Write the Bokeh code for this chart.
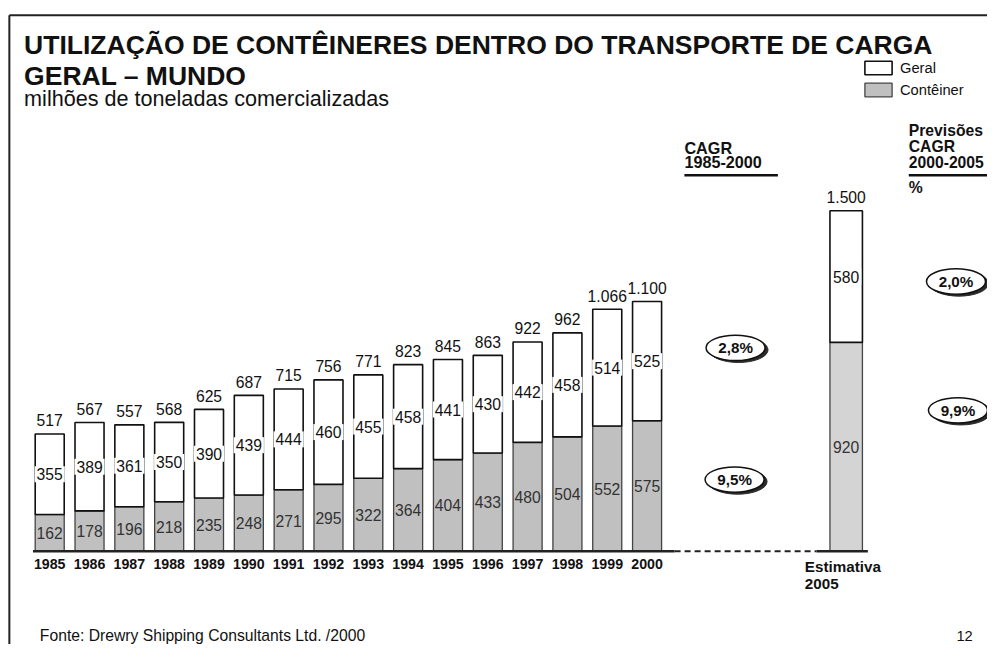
from bokeh.plotting import figure
from bokeh.models import ColumnDataSource, Range1d, Legend, LegendItem
from bokeh.core.properties import value
from bokeh.embed import file_html
from bokeh.resources import INLINE

# ---------------- data ----------------
years = [1985, 1986, 1987, 1988, 1989, 1990, 1991, 1992,
         1993, 1994, 1995, 1996, 1997, 1998, 1999, 2000]
totals = [517, 567, 557, 568, 625, 687, 715, 756,
          771, 823, 845, 863, 922, 962, 1066, 1100]
container = [162, 178, 196, 218, 235, 248, 271, 295,
             322, 364, 404, 433, 480, 504, 552, 575]
general = [355, 389, 361, 350, 390, 439, 444, 460,
           455, 458, 441, 430, 442, 458, 514, 525]

est_year = 2005
est_label = ["Estimativa", "2005"]
est_total = 1500
est_container = 920
est_general = 580

cagr_hist_title = ["CAGR", "1985-2000"]
cagr_hist = ["2,8%", "9,5%"]          # Geral, Contêiner
cagr_fcst_title = ["Previsões", "CAGR", "2000-2005", "%"]
cagr_fcst = ["2,0%", "9,9%"]          # Geral, Contêiner

title_lines = ["UTILIZAÇÃO DE CONTÊINERES DENTRO DO TRANSPORTE DE CARGA",
               "GERAL – MUNDO"]
subtitle = "milhões de toneladas comercializadas"
series_names = ["Geral", "Contêiner"]
source_note = "Fonte: Drewry Shipping Consultants Ltd. /2000"
page_number = "12"

# ---------------- layout ----------------
FONT = "Liberation Sans"
W, H = 987, 644
KX, KY = W / 1003, H / 660       # reference-page px -> canvas px
K = (KX + KY) / 2
SX = 40.47 * KX     # canvas px per year
SY = 0.2327 * KY    # canvas px per unit (milhões t)
X0 = 1985 - 50 * KX / SX
X1 = X0 + W / SX
Y1 = 564.5 * KY / SY
Y0 = Y1 - H / SY


def dx(px):
    return X0 + px * KX / SX


def dy(py):
    return Y1 - py * KY / SY


def fs(size):
    return f"{size * K:.1f}px"


def fmt(v):
    return f"{v:,}".replace(",", ".")


p = figure(width=W, height=H, x_range=Range1d(X0, X1), y_range=Range1d(Y0, Y1),
           output_backend="svg", toolbar_location=None, min_border=0,
           x_axis_type=None, y_axis_type=None, outline_line_color=None,
           background_fill_color="white", border_fill_color="white")
p.grid.visible = False


def put(px, py, txt, size, bold=False, align="left", baseline="middle", color="#111111"):
    p.text(x=[dx(px)], y=[dy(py)], text=[txt], text_font=value(FONT),
           text_font_size=fs(size), text_font_style="bold" if bold else "normal",
           text_align=align, text_baseline=baseline, text_color=color)


# page frame lines
p.segment(x0=[dx(9)], y0=[dy(15)], x1=[dx(1003)], y1=[dy(15)], line_color="#222222", line_width=2)
p.segment(x0=[dx(9)], y0=[dy(15)], x1=[dx(9)], y1=[dy(660)], line_color="#222222", line_width=2)

# titles
put(24, 46, title_lines[0], 27, bold=True, baseline="alphabetic")
put(24, 77, title_lines[1], 27, bold=True, baseline="alphabetic")
put(24, 100, subtitle, 22, baseline="alphabetic")

# ---------------- bars ----------------
bx = years + [est_year]
bc = container + [est_container]
bg = general + [est_general]
bt = totals + [est_total]
btop = [c + g for c, g in zip(bc, bg)]
bw = [29.5 * KX / SX] * len(years) + [33 * KX / SX]
cfill = ["#c0c0c0"] * len(years) + ["#d4d4d4"]

src = ColumnDataSource(dict(x=bx, c=bc, top=btop, w=bw, cfill=cfill))
cont_r = p.vbar(x="x", width="w", bottom=0, top="c", source=src,
                fill_color="cfill", line_color="#444444", line_width=1.3)
gen_r = p.vbar(x="x", width="w", bottom="c", top="top", source=src,
               fill_color="white", line_color="#111111", line_width=1.6)

# baseline: solid under history, dashed gap, solid under estimate
u = KX / SX
p.segment(x0=[years[0] - 17 * u], y0=[0], x1=[years[-1] + 28 * u], y1=[0],
          line_color="#222222", line_width=2.5)
p.segment(x0=[years[-1] + 28 * u], y0=[0], x1=[est_year - 30 * u], y1=[0],
          line_color="#222222", line_width=2, line_dash="6 4")
p.segment(x0=[est_year - 30 * u], y0=[0], x1=[est_year + 22 * u], y1=[0],
          line_color="#222222", line_width=2.5)

# value labels
v = KY / SY
lbl = ColumnDataSource(dict(
    x=bx,
    ytot=[t + 14 * v for t in btop],
    ttot=[fmt(t) for t in bt],
    ygen=[c + g / 2 for c, g in zip(bc, bg)],
    tgen=[fmt(g) for g in bg],
    ycon=[c / 2 for c in bc],
    tcon=[fmt(c) for c in bc],
))
p.text(x="x", y="ytot", text="ttot", source=lbl, text_font=value(FONT),
       text_font_size=fs(16), text_align="center", text_baseline="middle",
       text_color="#111111")
p.text(x="x", y="ygen", text="tgen", source=lbl, text_font=value(FONT),
       text_font_size=fs(16), text_align="center", text_baseline="middle",
       text_color="#111111", background_fill_color="white", padding=2)
p.text(x="x", y="ycon", text="tcon", source=lbl, text_font=value(FONT),
       text_font_size=fs(16), text_align="center", text_baseline="middle",
       text_color="#333333")

# year labels
p.text(x=years, y=[dy(578)] * len(years), text=[str(y) for y in years],
       text_font=value(FONT), text_font_size=fs(14.5), text_font_style="bold",
       text_align="center", text_baseline="middle", text_color="#111111")
p.text(x=[est_year - 42 * u] * 2, y=[dy(580), dy(598)], text=est_label,
       text_font=value(FONT), text_font_size=fs(15.5), text_font_style="bold",
       text_align="left", text_baseline="middle", text_color="#111111")

# ---------------- CAGR headers ----------------
put(695, 151, cagr_hist_title[0], 16.5, bold=True)
put(695, 166, cagr_hist_title[1], 16.5, bold=True)
p.segment(x0=[dx(695)], y0=[dy(179)], x1=[dx(790)], y1=[dy(179)], line_color="#111111", line_width=2.5)
put(923, 133, cagr_fcst_title[0], 16, bold=True)
put(923, 150, cagr_fcst_title[1], 16, bold=True)
put(923, 166, cagr_fcst_title[2], 16, bold=True)
p.segment(x0=[dx(923)], y0=[dy(179)], x1=[dx(1003)], y1=[dy(179)], line_color="#111111", line_width=2.5)
put(923, 192, cagr_fcst_title[3], 16, bold=True)

# CAGR bubbles
bub_px = [747, 746, 971, 973]
bub_py = [356, 491, 288, 420]
bub_txt = cagr_hist + cagr_fcst
p.ellipse(x=[dx(q + 3) for q in bub_px], y=[dy(q + 2) for q in bub_py],
          width=60 * KX, height=26 * KY, width_units="screen", height_units="screen",
          fill_color="#2a2a2a", line_color="#2a2a2a")
p.ellipse(x=[dx(q) for q in bub_px], y=[dy(q) for q in bub_py],
          width=60 * KX, height=26 * KY, width_units="screen", height_units="screen",
          fill_color="white", line_color="#111111", line_width=1.5)
p.text(x=[dx(q) for q in bub_px], y=[dy(q) for q in bub_py], text=bub_txt,
       text_font=value(FONT), text_font_size=fs(15.5), text_font_style="bold",
       text_align="center", text_baseline="middle", text_color="#111111")

# ---------------- legend ----------------
legend = Legend(items=[LegendItem(label=series_names[0], renderers=[gen_r]),
                       LegendItem(label=series_names[1], renderers=[cont_r])],
                location=(round(875 * KX), round(H - 100 * KY)), orientation="vertical",
                glyph_width=34, glyph_height=17, label_height=17, spacing=5,
                padding=0, margin=0, label_standoff=5,
                border_line_color=None, background_fill_alpha=0,
                label_text_font=FONT, label_text_font_size=fs(15),
                label_text_color="#111111")
p.add_layout(legend)

# footer
put(40, 651, source_note, 16)
put(988, 651, page_number, 15, align="right")

open("out.html", "w").write(file_html(p, INLINE))
